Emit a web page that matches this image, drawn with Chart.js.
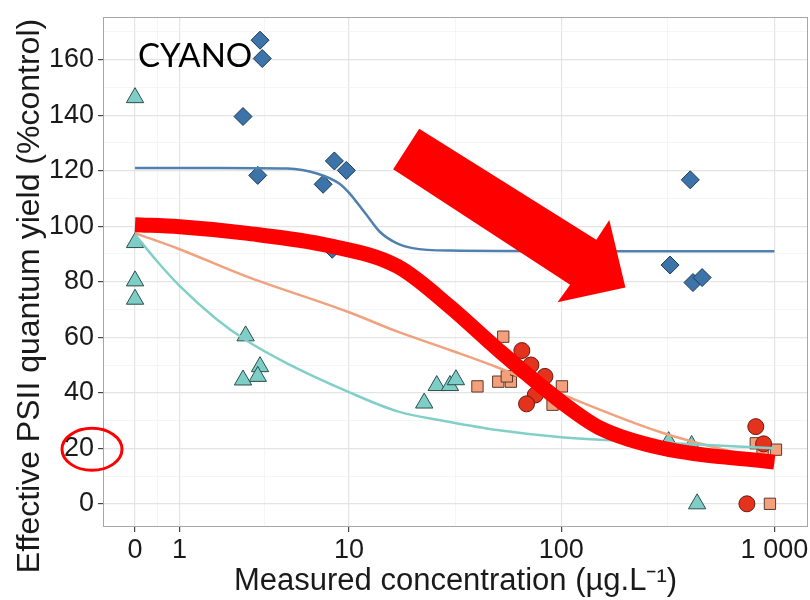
<!DOCTYPE html>
<html>
<head>
<meta charset="utf-8">
<script src="https://cdn.jsdelivr.net/npm/chart.js@4/dist/chart.umd.min.js"></script>
<style>
  body { margin: 0; background: #fff; }
  canvas { display: block; }
</style>
</head>
<body>
<canvas id="cyanoChart" width="810" height="600"></canvas>
<script>
// axis breaks
const xTickValues = [0, 1, 10, 100, 1000];
const xTickLabels = ['0', '1', '10', '100', '1 000'];
const yTickValues = [0, 10, 20, 30, 40, 50, 60, 70, 80, 90, 100, 110, 120, 130, 140, 150, 160, 170];

// measured points (concentration, % control)
const diamondX = [3.6, 3.7, 2.9, 3.5, 8.5, 9.7, 7.5, 8.3, 403, 324, 415, 458];
const diamondY = [167, 160.4, 139.5, 118.3, 123.5, 120.1, 115.1, 91.7, 116.7, 86.0, 79.7, 81.5];

const triangleX = [0, 0, 0, 0, 3.0, 3.6, 3.5, 2.9, 22.7, 26, 30, 32, 319, 409, 434];
const triangleY = [146.3, 94.1, 80.3, 73.7, 60.5, 49.4, 45.9, 44.6, 36.3, 42.6, 42.6, 44.7, 22.4, 21.0, 0];

const squareX = [53.4, 50.6, 58, 55.5, 61.5, 40.4, 100.7, 91, 818, 1017, 880, 953];
const squareY = [60.2, 44.0, 44.0, 45.9, 48.3, 42.3, 42.3, 35.7, 21.8, 19.5, 18.6, 0];

const circleX = [65.3, 83.8, 75.5, 68.7, 72, 818, 890, 743];
const circleY = [55.2, 45.9, 39.2, 36.0, 50, 27.8, 21.6, 0];

// fitted curves
const blueFitX = [0, 2, 5, 7, 9, 10, 12, 14, 17, 20, 30, 100, 1000];
const blueFitY = [121, 121, 120.8, 119, 115.3, 112, 104.5, 98, 93.7, 92.1, 91.2, 91, 91];

const tealFitX = [0, 0.5, 1, 2, 3, 5, 10, 17, 30, 50, 100, 300, 1000];
const tealFitY = [97, 87, 78.5, 66.5, 59, 50.5, 40.2, 33.3, 29.5, 26.6, 24, 22, 20];

const salmonFitX = [0, 1, 3, 10, 17, 30, 50, 100, 300, 1000];
const salmonFitY = [97.5, 91.7, 82, 69, 62, 55.4, 49.2, 39.5, 25.5, 15];

// hand drawn red trend curve
const trendX = [0, 1, 3, 8, 17, 30, 50, 100, 150, 300, 1000];
const trendY = [100.5, 99.8, 97.5, 93, 85.5, 71, 55.8, 36.7, 27.5, 20, 15];

// red block arrow outline (concentration, % control)
const arrowX = [21.5, 146, 168, 200, 96, 110, 16.2];
const arrowY = [135.1, 95.1, 102.2, 77.9, 72.6, 78.9, 120.5];

const yTitle = 'Effective PSII quantum yield (%control)';

// pseudo log transform (sigma = 1, base 10)
const toT = v => Math.asinh(v / 2) / Math.LN10;
const fromT = t => 2 * Math.sinh(t * Math.LN10);

class PseudoLogScale extends Chart.LinearScale {
    buildTicks() {
        const ticks = xTickValues.map(v => ({ value: v }));
        for (let i = 0; i < xTickValues.length - 1; i++) {
            ticks.push({ value: fromT((toT(xTickValues[i]) + toT(xTickValues[i + 1])) / 2) });
        }
        return ticks.sort((a, b) => a.value - b.value);
    }
    configure() {
        super.configure();
        this._tMin = toT(this.min);
        this._tMax = toT(this.max);
    }
    // labels may hang over the edge, like ggplot does
    getPadding() {
        return { left: 0, right: 0, top: 0, bottom: 0 };
    }
    getPixelForValue(v) {
        return this.getPixelForDecimal((toT(v) - this._tMin) / (this._tMax - this._tMin));
    }
    getValueForPixel(p) {
        return fromT(this._tMin + this.getDecimalForPixel(p) * (this._tMax - this._tMin));
    }
}
PseudoLogScale.id = 'pseudolog';
PseudoLogScale.defaults = Chart.LinearScale.defaults;
Chart.register(PseudoLogScale);

const zip = (xs, ys) => xs.map((x, i) => ({ x: x, y: ys[i] }));

// ggplot style 5% expansion
const allX = [].concat(diamondX, triangleX, squareX, circleX);
const allY = [].concat(diamondY, triangleY, squareY, circleY);
const tLo = toT(Math.min(...allX)), tHi = toT(Math.max(...allX));
const yLo = Math.min(...allY), yHi = Math.max(...allY);

const isMajorX = v => xTickValues.includes(v);
const isMajorY = v => v % 20 === 0;

function fitLine(xs, ys, color) {
    return {
        data: zip(xs, ys),
        showLine: true,
        borderColor: color,
        borderWidth: 2.5,
        pointRadius: 0,
        cubicInterpolationMode: 'monotone'
    };
}

function pointSet(xs, ys, style, fill, edge, r) {
    return {
        data: zip(xs, ys),
        pointStyle: style,
        backgroundColor: fill,
        borderColor: edge,
        borderWidth: 1,
        pointRadius: r
    };
}

// panel border, arrow, ellipse, labels
const annotations = {
    id: 'annotations',
    afterDatasetsDraw(chart) {
        const { ctx, chartArea, scales } = chart;
        ctx.save();
        ctx.strokeStyle = '#a6a6a6';
        ctx.lineWidth = 1;
        ctx.strokeRect(chartArea.left + 0.5, chartArea.top + 0.5,
            chartArea.right - chartArea.left - 1, chartArea.bottom - chartArea.top - 1);

        ctx.fillStyle = '#ff0000';
        ctx.beginPath();
        arrowX.forEach((x, i) => {
            const px = scales.x.getPixelForValue(x);
            const py = scales.y.getPixelForValue(arrowY[i]);
            if (i === 0) ctx.moveTo(px, py); else ctx.lineTo(px, py);
        });
        ctx.closePath();
        ctx.fill();

        ctx.strokeStyle = '#ff0000';
        ctx.lineWidth = 3;
        ctx.beginPath();
        ctx.ellipse(chartArea.left - 11, scales.y.getPixelForValue(20) + 1, 30, 21, 0, 0, Math.PI * 2);
        ctx.stroke();

        ctx.fillStyle = '#000';
        ctx.font = '33px Lato';
        ctx.textBaseline = 'alphabetic';
        ctx.fillText('CYANO', chartArea.left + 35, chartArea.top + 50);

        // y title is centred on the figure, not the panel
        ctx.fillStyle = '#1a1a1a';
        ctx.font = '32px "Liberation Sans"';
        ctx.textAlign = 'center';
        ctx.textBaseline = 'middle';
        ctx.translate(30, 296);
        ctx.rotate(-Math.PI / 2);
        ctx.fillText(yTitle, 0, 0);
        ctx.restore();
    }
};

new Chart(document.getElementById('cyanoChart'), {
    type: 'scatter',
    data: {
        datasets: [
            {
                data: zip(trendX, trendY),
                showLine: true,
                borderColor: '#ff0000',
                borderWidth: 15,
                borderCapStyle: 'butt',
                pointRadius: 0,
                cubicInterpolationMode: 'monotone'
            },
            fitLine(blueFitX, blueFitY, '#4f80b0'),
            fitLine(tealFitX, tealFitY, '#82cfc9'),
            fitLine(salmonFitX, salmonFitY, '#f0a27e'),
            pointSet(circleX, circleY, 'circle', '#e3331d', '#6e1a10', 8),
            pointSet(squareX, squareY, 'rect', '#f4a07c', '#5c3a2a', 8),
            pointSet(triangleX, triangleY, 'triangle', '#7ecdc6', '#2b4f4c', 10),
            pointSet(diamondX, diamondY, 'rectRot', '#3c74aa', '#1e3855', 9)
        ]
    },
    options: {
        responsive: false,
        animation: false,
        devicePixelRatio: 1,
        layout: { autoPadding: false, padding: { top: 17, right: 2, left: 0, bottom: 0 } },
        plugins: {
            legend: { display: false },
            tooltip: { enabled: false }
        },
        scales: {
            x: {
                type: 'pseudolog',
                min: fromT(tLo - 0.05 * (tHi - tLo)),
                max: fromT(tHi + 0.05 * (tHi - tLo)),
                afterFit: scale => { scale.height = 73; },
                border: { display: false },
                grid: {
                    color: ctx => isMajorX(ctx.tick.value) ? '#e4e4e4' : '#f1f1f1',
                    lineWidth: ctx => isMajorX(ctx.tick.value) ? 1.2 : 0.7,
                    tickColor: ctx => isMajorX(ctx.tick.value) ? '#444' : 'rgba(0,0,0,0)',
                    tickLength: 5
                },
                ticks: {
                    autoSkip: false,
                    maxRotation: 0,
                    padding: 2,
                    color: '#1a1a1a',
                    font: { family: 'Liberation Sans', size: 27 },
                    callback: value => isMajorX(value) ? xTickLabels[xTickValues.indexOf(value)] : ''
                },
                title: {
                    display: true,
                    text: 'Measured concentration (µg.L⁻¹)',
                    color: '#1a1a1a',
                    font: { family: 'Liberation Sans', size: 31 },
                    padding: { top: 0, bottom: 0 }
                }
            },
            y: {
                min: yLo - 0.05 * (yHi - yLo),
                max: yHi + 0.05 * (yHi - yLo),
                afterBuildTicks: scale => { scale.ticks = yTickValues.map(v => ({ value: v })); },
                afterFit: scale => {
                    scale.width = 103;
                    scale.paddingTop = 0;
                    scale.paddingBottom = 0;
                },
                border: { display: false },
                grid: {
                    color: ctx => isMajorY(ctx.tick.value) ? '#e4e4e4' : '#f1f1f1',
                    lineWidth: ctx => isMajorY(ctx.tick.value) ? 1.2 : 0.7,
                    tickColor: ctx => isMajorY(ctx.tick.value) ? '#444' : 'rgba(0,0,0,0)',
                    tickLength: 5
                },
                ticks: {
                    autoSkip: false,
                    padding: 4,
                    color: '#1a1a1a',
                    font: { family: 'Liberation Sans', size: 27 },
                    callback: value => isMajorY(value) ? String(value) : ''
                },
                title: { display: false }
            }
        }
    },
    plugins: [annotations]
});
</script>
</body>
</html>
